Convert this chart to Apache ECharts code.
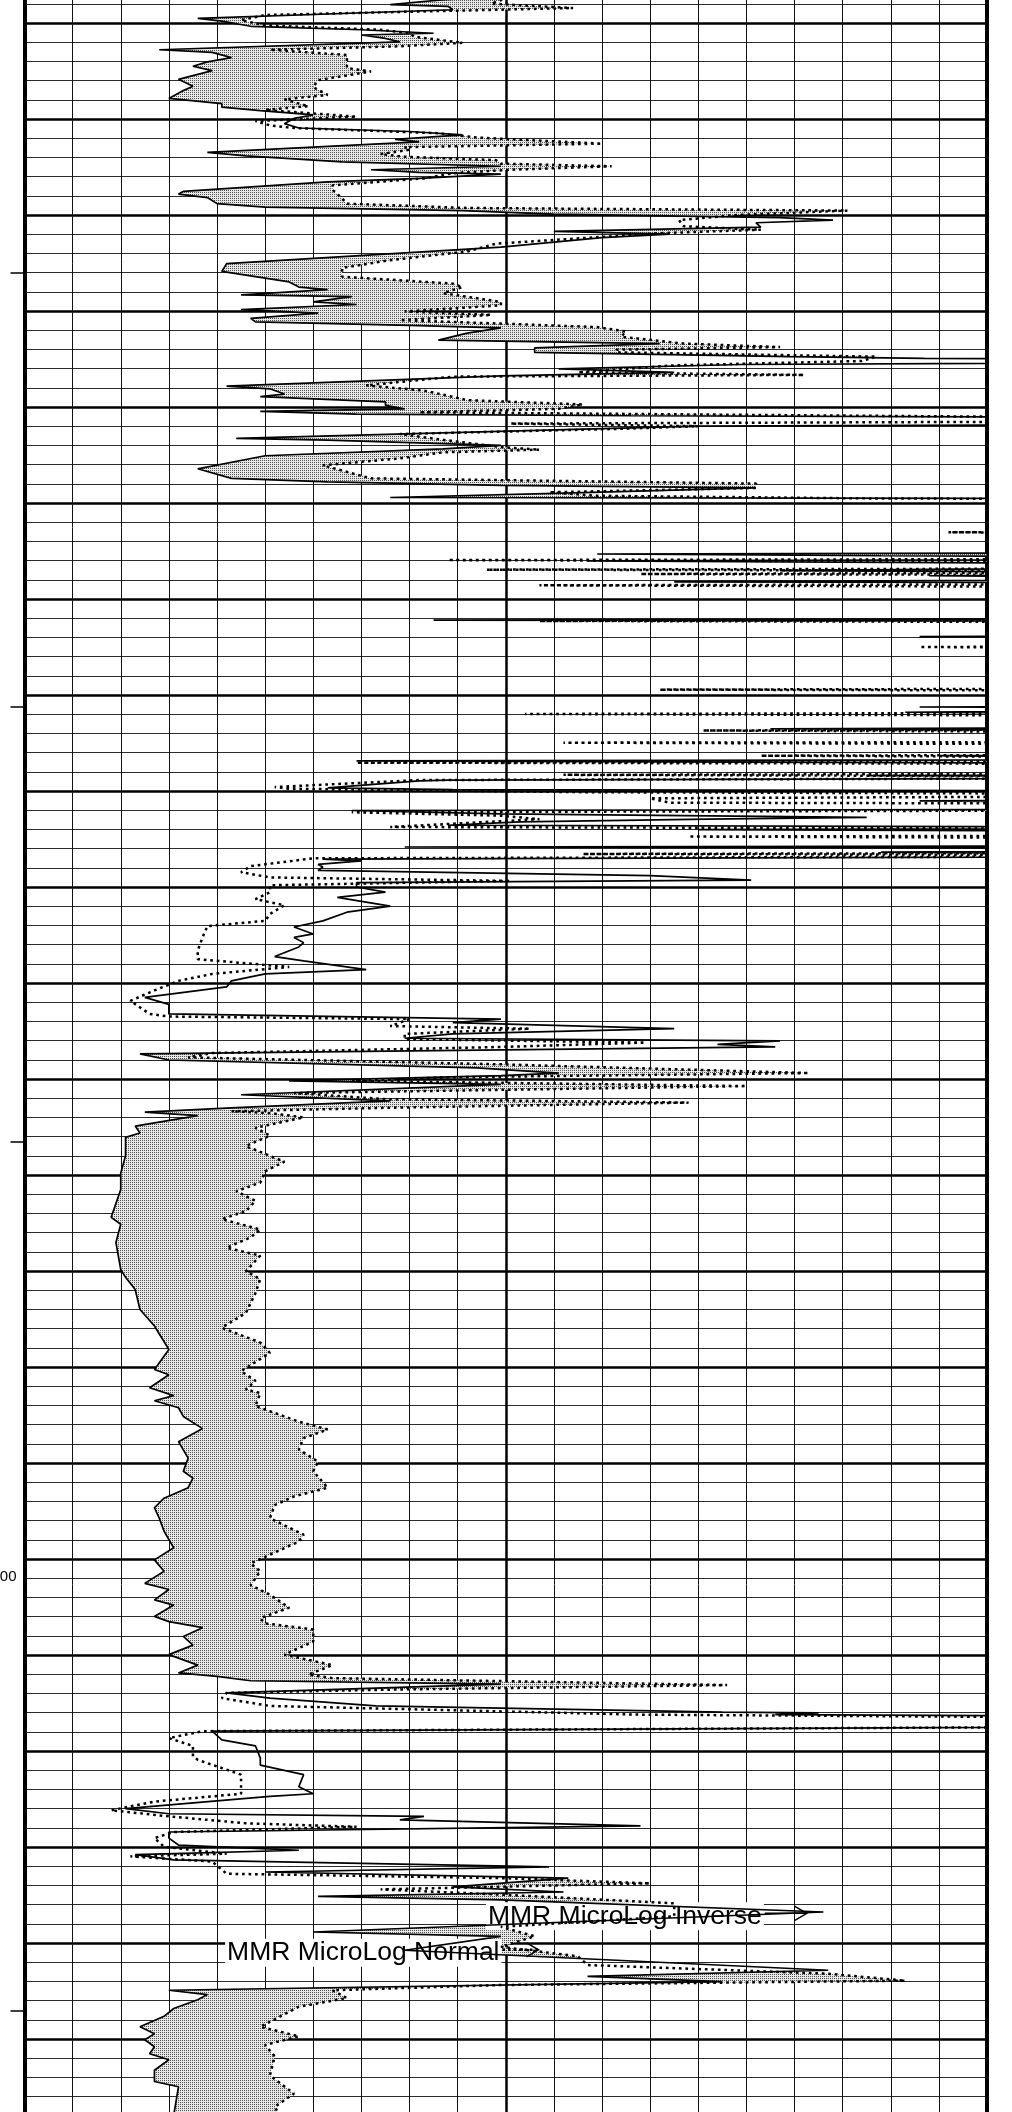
<!DOCTYPE html>
<html>
<head>
<meta charset="utf-8">
<script src="https://cdn.jsdelivr.net/npm/echarts@6/dist/echarts.min.js"></script>
<style>
  html, body { margin: 0; padding: 0; background: #ffffff; }
  #chart { width: 1012px; height: 2112px; }
</style>
</head>
<body>
<div id="chart"></div>
<script>
// MicroLog track: resistivity scale 0-20 ohm-m, depth in feet (increasing downward)

// [depth, value] for the MMR MicroLog Inverse curve (solid)
const INVERSE = [
  [1018.0,10.5],[1018.7,8.6],[1019.2,7.6],[1019.4,8.8],[1019.8,8.9],[1020.8,3.6],[1021.1,4.1],[1021.7,4.7],
  [1022.1,7.0],[1022.5,8.5],[1022.7,7.0],[1023.1,7.5],[1023.5,7.8],[1024.4,2.8],[1024.7,3.9],[1025.3,4.3],
  [1025.8,3.8],[1026.3,3.5],[1026.8,3.9],[1027.8,3.2],[1028.6,3.5],[1029.1,3.3],[1030.0,3.0],[1030.6,4.1],
  [1031.0,4.1],[1031.4,4.9],[1031.9,6.0],[1032.3,5.6],[1032.9,5.4],[1033.4,5.7],[1033.8,8.0],[1034.2,9.1],
  [1034.7,7.7],[1035.0,8.2],[1036.2,3.8],[1036.6,4.6],[1037.3,6.6],[1037.8,9.9],[1038.2,7.2],[1038.5,8.2],
  [1038.7,9.9],[1039.2,8.2],[1039.6,6.3],[1040.7,3.3],[1041.0,3.2],[1041.4,3.8],[1042.1,4.0],[1042.5,5.0],
  [1042.9,9.1],[1043.3,11.0],[1043.7,15.7],[1044.0,16.8],[1044.3,15.2],[1044.8,15.3],[1045.3,11.0],[1045.6,13.4],
  [1046.0,12.0],[1047.1,9.9],[1049.0,4.2],[1049.9,4.1],[1051.1,5.5],[1051.7,5.7],[1052.0,6.3],[1052.6,4.5],
  [1052.8,6.8],[1053.4,6.0],[1053.7,6.9],[1054.3,4.5],[1054.7,6.1],[1055.3,4.7],[1055.7,4.8],[1056.1,8.0],
  [1056.4,9.9],[1057.0,9.2],[1057.8,8.6],[1058.2,13.2],[1058.7,10.6],[1059.2,10.6],[1059.7,15.9],[1059.9,18.7],
  [1060.2,30],[1060.6,14.9],[1061.1,11.1],[1061.5,13.5],[1061.9,9.9],[1063.1,4.2],[1063.4,5.1],[1064.0,5.4],
  [1064.3,4.9],[1064.9,7.5],[1065.3,7.5],[1065.7,7.9],[1066.0,4.9],[1066.3,6.9],[1066.5,12.6],[1066.8,30],
  [1067.4,30],[1067.7,14.0],[1067.9,12.6],[1069.1,4.4],[1069.3,6.3],[1069.9,9.9],[1070.3,8.7],[1071.1,5.0],
  [1072.6,3.6],[1073.7,4.3],[1074.1,6.3],[1074.5,9.9],[1074.8,15.2],[1075.3,11.8],[1075.9,7.6],[1076.1,30],
  [1082.2,30],[1082.4,11.9],[1082.6,17.8],[1082.9,30],[1083.2,11.7],[1083.7,30],[1084.3,15.7],[1084.7,30],
  [1084.9,18.8],[1085.2,30],[1085.6,13.5],[1085.8,30],[1089.8,30],[1090.0,8.5],[1090.2,30],[1091.7,30],
  [1091.9,18.6],[1092.2,30],[1099.8,30],[1100.0,18.6],[1100.2,30],[1100.6,18.3],[1101.0,30],[1102.3,30],
  [1102.5,15.5],[1102.9,30],[1105.4,30],[1105.6,19.0],[1106.0,30],[1106.2,6.9],[1106.6,30],[1107.7,30],
  [1107.9,17.5],[1108.1,30],[1108.4,8.8],[1108.5,8.2],[1109.3,6.3],[1109.5,8.9],[1109.7,30],[1110.6,30],
  [1110.8,18.6],[1111.2,30],[1111.7,30],[1111.9,6.8],[1112.3,9.9],[1112.7,17.5],[1112.9,14.2],[1113.2,10.3],
  [1113.6,8.8],[1113.9,30],[1114.1,14.0],[1114.4,30],[1115.9,30],[1116.1,7.9],[1116.3,30],[1116.7,17.8],
  [1117.1,30],[1117.5,6.2],[1117.7,7.0],[1118.1,6.1],[1118.4,6.2],[1118.8,6.1],[1119.4,13.0],[1119.9,15.1],
  [1120.2,6.9],[1120.7,6.9],[1121.3,7.5],[1121.9,6.5],[1122.9,7.6],[1123.6,6.7],[1124.6,6.2],[1125.3,5.6],
  [1126.1,6.0],[1126.5,5.6],[1127.1,5.8],[1127.6,5.7],[1128.7,5.2],[1129.2,5.8],[1130.2,7.1],[1130.7,5.0],
  [1131.5,4.3],[1132.2,4.2],[1133.4,2.5],[1134.2,3.0],[1135.3,3.0],[1135.9,9.9],[1136.3,8.9],[1137.0,13.5],
  [1137.6,8.9],[1138.1,7.9],[1138.4,15.7],[1138.8,14.4],[1139.1,15.6],[1139.9,2.4],[1140.6,3.0],[1141.5,9.4],
  [1142.1,11.1],[1142.4,9.9],[1143.0,5.5],[1143.4,9.9],[1144.6,4.5],[1145.3,7.6],[1146.1,4.3],[1146.6,2.5],
  [1147.0,3.6],[1148.2,2.3],[1149.0,2.4],[1149.5,2.1],[1151.6,2.1],[1153.6,2.0],[1155.5,2.0],[1158.7,1.8],
  [1159.5,2.0],[1161.6,1.9],[1164.7,2.0],[1165.6,2.1],[1167.0,2.3],[1169.3,2.4],[1171.2,2.7],[1173.9,3.0],
  [1176.2,2.7],[1176.8,3.0],[1178.3,2.6],[1179.2,3.1],[1179.8,2.7],[1180.6,3.2],[1181.6,3.3],[1183.0,3.7],
  [1184.5,3.2],[1186.4,3.4],[1187.9,3.3],[1188.7,3.5],[1189.8,3.4],[1191.0,2.9],[1192.1,2.7],[1193.3,2.8],
  [1194.8,2.9],[1196.7,3.1],[1198.1,2.7],[1199.4,2.9],[1200.8,2.5],[1201.5,3.0],[1202.7,2.7],[1203.3,3.1],
  [1204.6,2.7],[1205.2,3.0],[1205.9,3.7],[1206.9,3.3],[1207.9,3.5],[1209.0,3.0],[1210.2,3.6],[1211.1,3.2],
  [1211.5,4.0],[1212.0,4.7],[1212.4,9.9],[1213.4,4.2],[1214.0,5.1],[1214.9,7.3],[1215.6,14.5],[1215.7,16.5],
  [1215.9,15.6],[1216.3,30],[1217.1,30],[1217.8,3.9],[1218.8,4.1],[1219.5,4.8],[1220.9,4.9],[1221.7,4.9],
  [1222.8,5.8],[1224.2,5.7],[1225.0,6.0],[1225.3,5.1],[1226.7,2.1],[1227.3,3.0],[1227.6,8.3],[1228.0,7.8],
  [1228.7,12.8],[1229.4,3.0],[1230.1,3.0],[1230.9,3.2],[1231.5,5.7],[1232.0,2.3],[1232.6,3.1],[1233.4,10.9],
  [1234.0,5.0],[1234.7,11.3],[1235.7,8.9],[1236.3,11.2],[1236.8,6.1],[1237.2,9.9],[1238.6,16.6],[1240.9,6.0],
  [1241.4,9.9],[1243.0,7.9],[1245.3,16.7],[1246.0,11.7],[1246.6,14.5],[1247.6,3.0],[1248.1,3.8],[1248.7,3.6],
  [1249.7,3.1],[1250.6,2.9],[1251.8,2.4],[1252.6,2.7],[1253.3,2.5],[1254.1,2.7],[1254.9,2.6],[1255.6,3.0],
  [1256.8,2.7],[1258.1,2.7],[1258.7,3.2],[1262.0,3.1]
];

// [depth, value] for the MMR MicroLog Normal curve (dotted)
const NORMAL = [
  [1018.0,10.0],[1018.7,9.9],[1019.1,9.7],[1019.6,11.4],[1020.4,5.0],[1021.0,4.5],[1021.6,5.0],[1022.1,7.4],
  [1022.5,8.0],[1022.9,8.1],[1023.6,9.1],[1024.0,7.8],[1024.4,5.1],[1025.0,6.7],[1026.0,6.7],[1026.5,6.7],
  [1026.9,7.2],[1027.9,6.1],[1028.7,6.0],[1029.6,6.3],[1030.1,5.4],[1030.9,5.9],[1031.3,5.0],[1032.1,6.9],
  [1032.6,4.8],[1033.1,5.1],[1033.4,5.6],[1034.0,8.6],[1034.5,9.4],[1035.2,12.0],[1035.6,7.9],[1035.9,8.0],
  [1036.4,7.4],[1036.7,7.9],[1037.1,9.8],[1037.5,9.9],[1037.8,12.2],[1038.2,10.1],[1038.6,8.9],[1039.2,8.3],
  [1040.0,6.4],[1040.5,6.4],[1041.5,6.6],[1042.1,6.7],[1042.6,9.2],[1042.9,17.1],[1043.4,14.8],[1044.0,13.6],
  [1044.7,13.7],[1045.1,15.3],[1045.5,13.2],[1046.7,9.8],[1047.6,9.2],[1048.6,7.6],[1049.5,6.6],[1050.5,6.6],
  [1051.3,8.9],[1051.7,9.1],[1052.4,8.7],[1053.4,9.9],[1053.8,9.9],[1054.5,7.9],[1054.9,9.7],[1055.5,7.8],
  [1055.9,9.9],[1056.3,11.9],[1056.8,12.5],[1057.4,12.4],[1058.2,13.7],[1058.6,15.7],[1058.9,12.3],[1059.2,12.3],
  [1059.7,17.7],[1060.2,17.4],[1060.7,13.5],[1061.5,11.5],[1061.8,16.2],[1062.0,8.9],[1063.0,7.1],[1063.6,8.3],
  [1064.2,8.8],[1064.7,9.2],[1065.2,11.6],[1065.7,11.1],[1066.1,8.2],[1066.5,17.5],[1067.0,30],[1067.4,10.1],
  [1067.7,14.0],[1068.0,12.4],[1068.6,7.8],[1069.2,8.6],[1070.1,9.9],[1070.4,10.7],[1070.7,8.7],[1071.4,7.8],
  [1072.2,6.2],[1073.7,7.2],[1074.3,15.2],[1074.8,15.2],[1075.3,10.9],[1075.7,11.9],[1076.0,17.4],[1076.2,30],
  [1079.8,30],[1079.9,19.2],[1080.1,30],[1082.9,30],[1083.1,8.8],[1083.4,30],[1084.0,30],[1084.2,9.6],
  [1084.4,30],[1084.7,12.8],[1084.9,30],[1085.8,30],[1086.0,10.7],[1086.3,30],[1089.9,30],[1090.1,10.7],
  [1090.3,30],[1092.9,30],[1093.1,18.6],[1093.3,30],[1097.8,30],[1098.0,13.2],[1098.2,30],[1100.6,30],
  [1100.8,10.4],[1101.1,30],[1102.5,30],[1102.7,14.1],[1103.0,30],[1104.0,30],[1104.1,11.2],[1104.4,30],
  [1105.4,30],[1105.6,15.3],[1105.9,30],[1106.2,30],[1106.4,6.9],[1106.6,30],[1107.6,30],[1107.8,11.2],
  [1108.1,30],[1108.4,8.2],[1109.2,5.2],[1109.4,5.5],[1109.8,11.7],[1110.1,30],[1110.3,30],[1110.5,13.0],
  [1111.0,13.4],[1111.2,30],[1111.8,30],[1112.1,6.8],[1112.5,9.9],[1112.9,10.7],[1113.8,7.6],[1114.1,30],
  [1114.7,30],[1114.9,13.8],[1115.2,30],[1116.7,30],[1116.9,11.6],[1117.1,30],[1117.4,6.0],[1118.3,4.7],
  [1119.0,4.5],[1119.6,5.1],[1120.0,10.1],[1120.5,5.1],[1121.3,5.1],[1122.1,4.8],[1122.8,5.4],[1123.8,5.1],
  [1124.6,5.0],[1125.2,3.8],[1126.5,3.7],[1128.0,3.6],[1129.0,3.6],[1129.9,5.5],[1130.7,3.9],[1131.5,3.2],
  [1132.6,2.7],[1133.8,2.2],[1135.3,2.6],[1135.6,3.0],[1135.9,8.0],[1136.7,7.6],[1137.0,10.5],[1137.6,7.9],
  [1138.2,7.9],[1138.6,12.9],[1139.1,9.9],[1139.8,3.9],[1140.3,3.4],[1141.1,9.9],[1142.1,16.3],[1142.6,8.7],
  [1143.0,6.8],[1143.6,15.0],[1144.4,5.6],[1145.1,7.5],[1145.5,13.8],[1146.1,7.5],[1146.5,4.3],[1146.7,5.1],
  [1147.2,5.8],[1148.4,4.8],[1149.3,5.1],[1150.5,4.6],[1152.3,5.4],[1153.4,5.0],[1154.7,4.9],[1155.7,4.4],
  [1156.8,4.8],[1158.0,4.6],[1158.9,4.1],[1160.1,4.9],[1161.0,4.7],[1162.2,4.2],[1163.1,4.9],[1164.9,4.6],
  [1165.8,4.9],[1167.4,4.8],[1169.7,4.6],[1171.4,4.1],[1173.1,4.9],[1174.3,5.1],[1176.4,4.5],[1177.5,4.8],
  [1178.5,4.6],[1178.9,4.9],[1180.4,4.8],[1180.8,5.0],[1182.2,5.7],[1183.1,6.3],[1184.1,5.8],[1185.4,5.7],
  [1186.8,6.1],[1187.9,6.0],[1189.8,6.3],[1190.8,5.6],[1191.8,5.2],[1193.3,5.1],[1195.2,5.8],[1196.0,5.7],
  [1197.5,5.1],[1198.5,4.7],[1199.4,4.9],[1201.0,4.7],[1202.1,5.1],[1203.6,5.5],[1204.8,4.9],[1205.4,5.0],
  [1206.1,6.0],[1207.5,6.0],[1209.0,5.4],[1210.2,6.4],[1211.3,5.9],[1211.7,6.4],[1212.5,14.6],[1213.0,7.8],
  [1213.4,4.2],[1214.0,4.1],[1214.9,5.1],[1215.9,12.8],[1216.5,30],[1217.1,30],[1217.8,3.7],[1218.6,3.0],
  [1219.5,3.5],[1220.7,3.5],[1221.1,3.6],[1222.8,4.5],[1225.0,4.5],[1225.9,2.7],[1226.9,1.8],[1227.6,3.0],
  [1228.4,4.6],[1228.8,6.9],[1229.4,3.1],[1230.1,2.7],[1231.1,2.9],[1231.9,4.2],[1232.2,2.2],[1232.8,3.9],
  [1234.2,4.2],[1234.7,9.9],[1235.3,13.0],[1236.0,7.4],[1236.6,9.9],[1237.6,13.5],[1239.1,13.5],[1240.3,9.9],
  [1241.4,10.6],[1242.6,9.9],[1243.7,11.5],[1244.7,11.7],[1245.7,16.7],[1246.5,18.3],[1247.0,9.9],[1247.6,6.4],
  [1248.5,6.7],[1249.5,5.7],[1251.8,4.9],[1252.9,5.7],[1253.9,5.0],[1255.2,5.2],[1257.4,5.1],[1259.5,5.6],
  [1261.0,5.2],[1262.0,5.3]
];

// depth ticks and the labelled depth
const DEPTH_TICKS = [1050, 1100, 1150, 1250];
const DEPTH_LABELS = [1200];

// in-track curve captions: scale value / depth of the caption's left-middle point
const CAPTIONS = [
  { text: 'MMR MicroLog Inverse', value: 9.63, depth: 1239.1, dotted: false },
  { text: 'MMR MicroLog Normal',  value: 4.21, depth: 1243.3, dotted: true }
];

const SCALE_MIN = 0, SCALE_MAX = 20;
const DEPTH_MIN = 1010.28, DEPTH_MAX = 1264.25;
const ROWS = 115;           // minor depth-grid rows over the depth range
const FONT_FAMILY = '"Liberation Sans", Arial, sans-serif';
const CAPTION_FONT = '26.5px ' + FONT_FAMILY;

// ---- helpers ----
function valueAt(curve, d) {
  if (d <= curve[0][0]) return curve[0][1];
  const n = curve.length;
  if (d >= curve[n - 1][0]) return curve[n - 1][1];
  let lo = 0, hi = n - 1;
  while (hi - lo > 1) {
    const mid = (lo + hi) >> 1;
    if (curve[mid][0] <= d) lo = mid; else hi = mid;
  }
  const a = curve[lo], b = curve[hi];
  if (b[0] === a[0]) return b[1];
  return a[1] + (b[1] - a[1]) * (d - a[0]) / (b[0] - a[0]);
}
const clampScale = v => Math.max(SCALE_MIN, Math.min(SCALE_MAX, v));

// stipple used for the separation shading (Normal reading above Inverse)
const stipple = document.createElement('canvas');
stipple.width = 2; stipple.height = 2;
(function () {
  const c = stipple.getContext('2d');
  c.fillStyle = '#e8e8e8'; c.fillRect(0, 0, 2, 2);
  c.fillStyle = '#505050'; c.fillRect(0, 0, 1, 1);
})();

const measureCtx = document.createElement('canvas').getContext('2d');
function textWidth(t) { measureCtx.font = CAPTION_FONT; return measureCtx.measureText(t).width; }

const chart = echarts.init(document.getElementById('chart'), null, { renderer: 'canvas' });

const gridLineAxis = (interval, width, color, extra) => Object.assign({
  type: 'value', min: 0, max: ROWS, interval: interval, gridIndex: 0,
  axisLine: { show: false }, axisTick: { show: false }, axisLabel: { show: false },
  splitLine: { show: true, lineStyle: { color: color, width: width } }
}, extra || {});

chart.setOption({
  animation: false,
  backgroundColor: '#ffffff',
  textStyle: { fontFamily: FONT_FAMILY },
  grid: { left: 24.5, right: 25, top: -73, bottom: -23, containLabel: false, outerBoundsMode: 'none' },
  xAxis: [
    { type: 'value', min: SCALE_MIN, max: SCALE_MAX, interval: 1, position: 'top',
      axisLine: { show: false }, axisTick: { show: false }, axisLabel: { show: false },
      splitLine: { show: true, lineStyle: { color: '#111', width: 1 } } },
    { type: 'value', min: SCALE_MIN, max: SCALE_MAX, interval: 10, position: 'bottom',
      axisLine: { show: false }, axisTick: { show: false }, axisLabel: { show: false },
      splitLine: { show: true, lineStyle: { color: '#000', width: 2.5 } } }
  ],
  yAxis: [
    { type: 'value', inverse: true, min: DEPTH_MIN, max: DEPTH_MAX, position: 'left',
      axisLine: { show: true, lineStyle: { color: '#000', width: 4 } },
      axisTick: { show: true, customValues: DEPTH_TICKS, length: 14, lineStyle: { color: '#000', width: 1.5 } },
      axisLabel: { show: true, customValues: DEPTH_LABELS, margin: 8, color: '#000', fontSize: 15,
                   fontFamily: FONT_FAMILY },
      splitLine: { show: false } },
    gridLineAxis(1, 1, '#2a2a2a', { position: 'right',
      axisLine: { show: true, onZero: false, lineStyle: { color: '#000', width: 4 } } }),
    gridLineAxis(5, 2.5, '#000', { position: 'left', offset: 40 })
  ],
  series: [
    { // separation shading between the two curves
      type: 'custom', name: 'separation', xAxisIndex: 0, yAxisIndex: 0, z: 1, silent: true,
      data: [[SCALE_MIN, DEPTH_MIN]],
      renderItem: function (params, api) {
        const d0 = Math.max(INVERSE[0][0], NORMAL[0][0]);
        const d1 = Math.min(INVERSE[INVERSE.length - 1][0], NORMAL[NORMAL.length - 1][0]);
        const left = [], right = [];
        for (let d = d0; d <= d1; d += 0.02) {
          const inv = valueAt(INVERSE, d), nor = valueAt(NORMAL, d);
          left.push(api.coord([clampScale(inv), d]));
          right.push(api.coord([clampScale(Math.max(inv, nor)), d]));
        }
        const pts = left.concat(right.reverse());
        return { type: 'polygon', shape: { points: pts },
                 style: { fill: { image: stipple, repeat: 'repeat' }, stroke: null } };
      }
    },
    { // curve captions with direction arrows
      type: 'custom', name: 'captions', xAxisIndex: 0, yAxisIndex: 0, z: 2, silent: true,
      data: CAPTIONS.map(c => [c.value, c.depth]),
      renderItem: function (params, api) {
        const cap = CAPTIONS[params.dataIndex];
        const p = api.coord([cap.value, cap.depth]);
        const w = textWidth(cap.text);
        const ax = p[0] + w + 3, ay = p[1] - 3, len = cap.dotted ? 36 : 42;
        return { type: 'group', children: [
          { type: 'rect', shape: { x: p[0] - 2, y: p[1] - 14, width: w + 4, height: 28 },
            style: { fill: '#ffffff' } },
          { type: 'text', x: p[0], y: p[1],
            style: { text: cap.text, font: CAPTION_FONT, fill: '#000', align: 'left', verticalAlign: 'middle' } },
          { type: 'line', shape: { x1: ax, y1: ay, x2: ax + len, y2: ay },
            style: { stroke: '#000', lineWidth: cap.dotted ? 2.5 : 1.5, lineDash: cap.dotted ? [2.5, 3] : null } },
          { type: 'polyline', shape: { points: [[ax + len - 12, ay - 7], [ax + len, ay], [ax + len - 12, ay + 7]] },
            style: { stroke: '#000', lineWidth: 1.5, fill: null } }
        ] };
      }
    },
    { type: 'line', name: 'MMR MicroLog Inverse', xAxisIndex: 0, yAxisIndex: 0, z: 3,
      data: INVERSE.map(p => [p[1], p[0]]), symbol: 'none', clip: true,
      lineStyle: { color: '#000', width: 1.7 } },
    { type: 'line', name: 'MMR MicroLog Normal', xAxisIndex: 0, yAxisIndex: 0, z: 3,
      data: NORMAL.map(p => [p[1], p[0]]), symbol: 'none', clip: true,
      lineStyle: { color: '#000', width: 2.5, type: [2.7, 3.8] } }
  ]
});
</script>
</body>
</html>
